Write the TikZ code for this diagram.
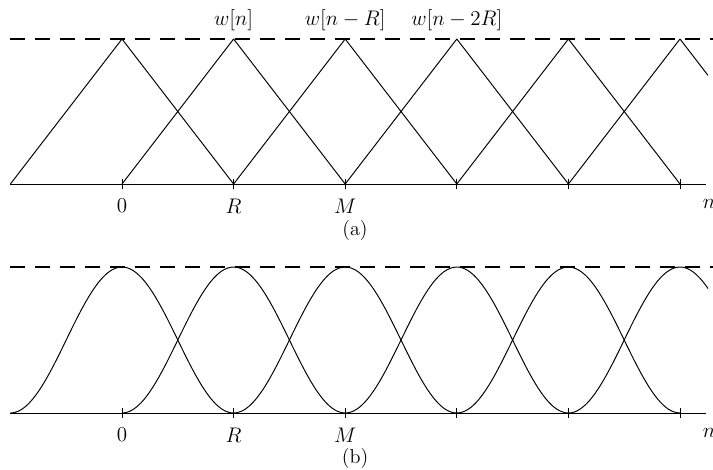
\documentclass[tikz,border=0pt]{standalone}
\usepackage{amsmath}
\usetikzlibrary{positioning}
\begin{document}
\begin{tikzpicture}[x=0.2mm,y=0.2mm,
  axis/.style={line width=0.55pt},
  win/.style={line width=0.55pt,line join=round},
  lvl/.style={line width=0.6pt,dash pattern=on 3mm off 2mm},
  tck/.style={line width=0.55pt},
  lab/.style={font=\fontsize{11.5}{13}\selectfont,inner sep=1pt}
]
  \useasboundingbox (0,0) rectangle (713,469);
  % (a) triangular windows
  \coordinate (sa) at (10,285);
  \coordinate (ea) at (706,285);
  \draw[axis] (sa) -- (ea);
  \draw[lvl] (10,430) -- (713,430);
  \foreach \k in {0,...,5}{
    \coordinate (ta\k) at ({122+111.6*\k},285);
    \coordinate (pa\k) at ({122+111.6*\k},430);
    \draw[tck] ([yshift=-1mm]ta\k) -- ([yshift=1mm]ta\k);
  }
  \foreach \k in {0,...,4}
    \draw[win] ({122+111.6*(\k-1)},285) -- (pa\k) -- ({122+111.6*(\k+1)},285);
  \draw[win] (ta4) -- (pa5) -- ++(28,-36.4);
  \node[lab,above=1.2mm of pa1] (wa) {$w[n]$};
  \node[lab,above=1.2mm of pa2] (wb) {$w[n-R]$};
  \node[lab,above=1.2mm of pa3] (wc) {$w[n-2R]$};
  \node[lab,below=2.6mm of ta0] (za) {$0$};
  \node[lab,below=2.6mm of ta1] (ra) {$R$};
  \node[lab,below=2.6mm of ta2] (ma) {$M$};
  \node[lab,below=2.6mm of ea,xshift=0.6mm] (na) {$n$};
  \node[lab] (capa) at (355,239) {(a)};
  % (b) Hann windows
  \coordinate (sb) at (10,56);
  \coordinate (eb) at (706,56);
  \draw[axis] (sb) -- (eb);
  \draw[lvl] (10,202) -- (713,202);
  \foreach \k in {0,...,5}{
    \coordinate (tb\k) at ({122+111.6*\k},56);
    \draw[tck] ([yshift=-1mm]tb\k) -- ([yshift=1mm]tb\k);
  }
  \foreach \k in {0,...,4}
    \draw[win] plot[domain=-111.6:111.6,samples=60,smooth]
      ({122+111.6*\k+\x},{56+73*(1+cos(\x/111.6*180))});
  \draw[win] plot[domain=-111.6:28,samples=50,smooth]
    ({680+\x},{56+73*(1+cos(\x/111.6*180))});
  \node[lab,below=2.6mm of tb0] (zb) {$0$};
  \node[lab,below=2.6mm of tb1] (rb) {$R$};
  \node[lab,below=2.6mm of tb2] (mb) {$M$};
  \node[lab,below=2.6mm of eb,xshift=0.6mm] (nb) {$n$};
  \node[lab] (capb) at (355,11) {(b)};
\end{tikzpicture}
\end{document}
